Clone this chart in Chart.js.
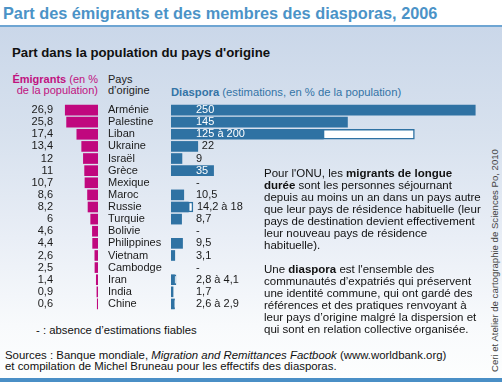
<!DOCTYPE html>
<html><head><meta charset="utf-8">
<script src="https://cdn.jsdelivr.net/npm/chart.js@4.4.0/dist/chart.umd.min.js"></script>
<style>
body{margin:0;background:#fff;}
#wrap{position:relative;width:502px;height:382px;overflow:hidden;background:#fff;font-family:"Liberation Sans",Arial,sans-serif;color:#111;}
#bg{position:absolute;left:0;top:27px;width:502px;height:351px;background:linear-gradient(#cad7e9 0%,#d7e1ee 30%,#e9eef6 60%,#f8fafc 85%,#fdfefe 100%);}
.t{position:absolute;white-space:nowrap;z-index:3;}
.cv{position:absolute;z-index:2;}
canvas{display:block;}
</style></head>
<body>
<div id="wrap">
<div id="bg"></div>
<div class="t" style="left:3px;top:3px;font-weight:bold;font-size:16.3px;line-height:20px;color:#4b93c7">Part des émigrants et des membres des diasporas, 2006</div>
<div style="position:absolute;left:0;top:25px;width:502px;height:2px;background:#6ea5d3"></div>
<div class="t" style="left:12px;top:45px;font-weight:bold;font-size:13.2px;line-height:16px;color:#111">Part dans la population du pays d'origine</div>
<div class="t" style="right:404px;top:74px;font-size:11px;line-height:11px;text-align:right;color:#c0127f"><b>Émigrants</b> (en %<br>de la population)</div>
<div class="t" style="left:108px;top:74px;font-size:11px;line-height:11px;color:#222">Pays<br>d’origine</div>
<div class="t" style="left:171px;top:86px;font-size:11.25px;line-height:12px;color:#3474a6"><b>Diaspora</b> (estimations, en % de la population)</div>

<div class="cv" style="left:0;top:104px;"><canvas id="ce" width="98" height="206"></canvas></div>
<div class="cv" style="left:108px;top:104px;"><canvas id="cd" width="380" height="206"></canvas></div>

<div class="t" style="left:264px;top:167px;font-size:11.5px;line-height:12px;color:#111">Pour l'ONU, les <b>migrants de longue</b><br><b>durée</b> sont les personnes séjournant<br>depuis au moins un an dans un pays autre<br>que leur pays de résidence habituelle (leur<br>pays de destination devient effectivement<br>leur nouveau pays de résidence<br>habituelle).<br><br>Une <b>diaspora</b> est l'ensemble des<br>communautés d’expatriés qui préservent<br>une identité commune, qui ont gardé des<br>références et des pratiques renvoyant à<br>leur pays d’origine malgré la dispersion et<br>qui sont en relation collective organisée.</div>

<div class="t" style="left:36px;top:324px;font-size:11.3px;line-height:12px;color:#111">- : absence d’estimations fiables</div>
<div class="t" style="left:5px;top:350px;font-size:11.4px;line-height:10.8px;color:#111">Sources : Banque mondiale, <i>Migration and Remittances Factbook</i> (www.worldbank.org)<br>et compilation de Michel Bruneau pour les effectifs des diasporas.</div>
<div class="t" style="left:379px;top:255px;width:230px;text-align:center;font-size:9.6px;line-height:11px;color:#444;transform:rotate(-90deg);transform-origin:50% 50%">Ceri et Atelier de cartographie de Sciences Po, 2010</div>
<div style="position:absolute;left:0;top:378px;width:502px;height:4px;background:#4a8fc6"></div>
</div>

<script>
const countries = ['Arménie','Palestine','Liban','Ukraine','Israël','Grèce','Mexique','Maroc','Russie','Turquie','Bolivie','Philippines','Vietnam','Cambodge','Iran','India','Chine'];
const emigrants = [26.9,25.8,17.4,13.4,12,11,10.7,8.6,8.2,6,4.6,4.4,2.6,2.5,1.4,0.9,0.6];
const diasporaLow = [250,145,125,22,9,35,null,10.5,14.2,8.7,null,9.5,3.1,null,2.8,1.7,2.6];
const diasporaHigh = [null,null,200,null,null,null,null,null,18,null,null,null,null,null,4.1,null,2.9];

const MAGENTA = '#c0087e';
const BLUE = '#2f72a3';
const FONT = {family:'"Liberation Sans", Arial, sans-serif', size:11};
const fmt = v => String(v).replace('.', ',');
const PXU = 1.217; // pixels per percentage point (shared by both charts)

const common = () => ({
  responsive:false, animation:false, devicePixelRatio:1,
  indexAxis:'y',
  layout:{padding:0},
  plugins:{legend:{display:false}, tooltip:{enabled:false}}
});
const fitY = w => function(s){ s.width = w; s.paddingTop = 0; s.paddingBottom = 0; };

new Chart(document.getElementById('ce'), {
  type:'bar',
  data:{labels:countries, datasets:[{data:emigrants, backgroundColor:MAGENTA, barThickness:10, borderWidth:0}]},
  options:Object.assign(common(), {
    scales:{
      x:{display:false, min:0, max:40/PXU, reverse:true},
      y:{
        grid:{display:false, drawTicks:false}, border:{display:false},
        ticks:{padding:5, crossAlign:'near', font:FONT, color:'#1a1a1a', autoSkip:false,
               callback:(v,i)=>fmt(emigrants[i])},
        afterFit:fitY(58)
      }
    }
  })
});

const labelPlugin = {
  id:'dlabels',
  afterDatasetsDraw(chart){
    const {ctx, scales:{x, y}} = chart;
    ctx.save();
    ctx.font = '11px "Liberation Sans", Arial, sans-serif';
    ctx.textBaseline = 'middle'; ctx.textAlign = 'left';
    const x0 = x.getPixelForValue(0);
    countries.forEach((c, i) => {
      const lo = diasporaLow[i], hi = diasporaHigh[i];
      const txt = lo == null ? '-' : (hi == null ? fmt(lo) : fmt(lo) + ' à ' + fmt(hi));
      const yy = y.getPixelForValue(i);
      const tx = x0 + 25;
      const solidEnd = lo == null ? x0 : x.getPixelForValue(lo);
      const end = lo == null ? x0 : x.getPixelForValue(hi == null ? lo : hi);
      const w = ctx.measureText(txt).width;
      if (solidEnd > tx + w + 2) { ctx.fillStyle = '#ffffff'; ctx.fillText(txt, tx, yy); }
      else { ctx.fillStyle = '#1a1a1a'; ctx.fillText(txt, Math.max(tx, end + 4), yy); }
    });
    ctx.restore();
  }
};

new Chart(document.getElementById('cd'), {
  type:'bar',
  data:{labels:countries, datasets:[
    {data:diasporaLow, backgroundColor:BLUE, barThickness:10, borderWidth:0, grouped:false},
    {data:diasporaLow.map((lo,i)=> diasporaHigh[i]==null ? null : [lo, diasporaHigh[i]]),
     backgroundColor:'#ffffff', borderColor:BLUE, borderWidth:1.5, borderSkipped:false, barThickness:10, grouped:false}
  ]},
  options:Object.assign(common(), {
    scales:{
      x:{display:false, min:0, max:317/PXU},
      y:{
        grid:{display:false, drawTicks:false}, border:{display:false},
        ticks:{padding:0, crossAlign:'far', font:FONT, color:'#1a1a1a', autoSkip:false},
        afterFit:fitY(63)
      }
    }
  }),
  plugins:[labelPlugin]
});
</script>
</body></html>
